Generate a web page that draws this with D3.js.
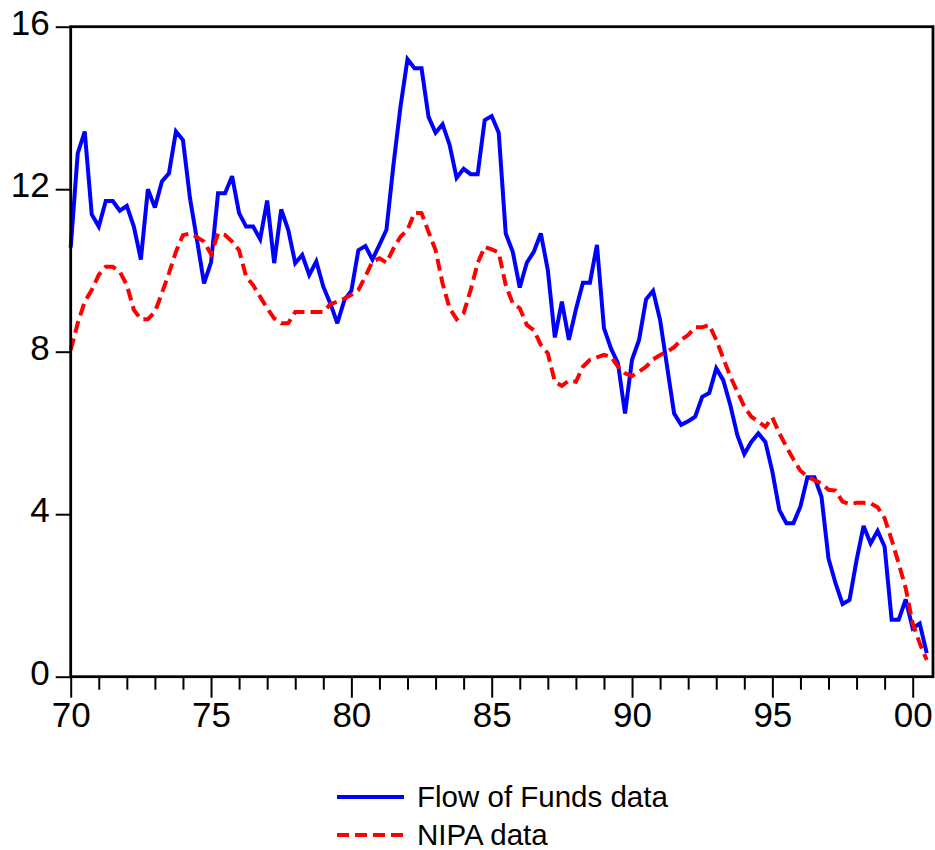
<!DOCTYPE html>
<html>
<head>
<meta charset="utf-8">
<script src="https://cdn.jsdelivr.net/npm/d3@7"></script>
<style>
  html, body { margin: 0; padding: 0; background: #fff; }
  svg { display: block; }
  text { font-family: Arial, "Liberation Sans", sans-serif; fill: #000; }
</style>
</head>
<body>
<svg id="chart" width="935" height="850"></svg>
<script>
// ---- Data (quarterly, 1970Q1 .. 2000Q3) ----
const startYear = 1970;
const flowOfFunds = [
  10.56, 12.88, 13.42, 11.38,
  11.08, 11.71, 11.71, 11.47,
  11.59, 11.08, 10.27, 12.00,
  11.55, 12.19, 12.39, 13.42,
  13.21, 11.78, 10.75, 9.68,
  10.20, 11.90, 11.90, 12.32,
  11.41, 11.08, 11.08, 10.77,
  11.72, 10.18, 11.50, 11.00,
  10.18, 10.38, 9.89, 10.22,
  9.60, 9.19, 8.70, 9.27,
  9.50, 10.50, 10.60, 10.27,
  10.63, 11.00, 12.60, 14.03,
  15.20, 14.98, 14.98, 13.78,
  13.39, 13.60, 13.09, 12.28,
  12.50, 12.37, 12.37, 13.70,
  13.80, 13.39, 10.91, 10.46,
  9.58, 10.19, 10.46, 10.91,
  10.01, 8.35, 9.23, 8.29,
  9.04, 9.70, 9.70, 10.63,
  8.58, 8.08, 7.71, 6.48,
  7.80, 8.29, 9.29, 9.50,
  8.78, 7.63, 6.48, 6.20,
  6.29, 6.40, 6.89, 6.98,
  7.59, 7.30, 6.69, 5.95,
  5.48, 5.78, 5.99, 5.78,
  5.05, 4.10, 3.78, 3.78,
  4.19, 4.91, 4.91, 4.43,
  2.91, 2.30, 1.79, 1.89,
  2.87, 3.71, 3.28, 3.59,
  3.20, 1.40, 1.40, 1.90,
  1.19, 1.31, 0.58
];
const nipa = [
  8.04, 8.70, 9.23, 9.52,
  9.89, 10.09, 10.09, 9.97,
  9.64, 9.03, 8.80, 8.80,
  8.98, 9.44, 9.93, 10.46,
  10.87, 10.91, 10.82, 10.71,
  10.40, 10.91, 10.87, 10.71,
  10.50, 9.85, 9.64, 9.35,
  9.07, 8.82, 8.70, 8.70,
  8.98, 8.98, 8.98, 8.98,
  8.98, 9.17, 9.23, 9.31,
  9.40, 9.52, 9.85, 10.22,
  10.30, 10.19, 10.54, 10.83,
  11.00, 11.42, 11.41, 10.95,
  10.50, 9.68, 9.07, 8.80,
  8.95, 9.52, 10.18, 10.58,
  10.52, 10.44, 9.64, 9.19,
  9.07, 8.66, 8.53, 8.17,
  7.96, 7.26, 7.16, 7.29,
  7.26, 7.63, 7.80, 7.86,
  7.92, 7.88, 7.63, 7.47,
  7.40, 7.51, 7.63, 7.81,
  7.92, 8.00, 8.11, 8.29,
  8.41, 8.60, 8.60, 8.66,
  8.29, 7.84, 7.39, 7.02,
  6.65, 6.40, 6.28, 6.15,
  6.38, 5.99, 5.66, 5.35,
  5.07, 4.92, 4.84, 4.76,
  4.60, 4.58, 4.31, 4.25,
  4.28, 4.28, 4.27, 4.17,
  3.90, 3.37, 2.79, 2.18,
  1.31, 0.82, 0.41
];
const yTicks = [0, 4, 8, 12, 16];
const xMajorTicks = [1970, 1975, 1980, 1985, 1990, 1995, 2000];
const xMajorLabels = ["70", "75", "80", "85", "90", "95", "00"];
const seriesNames = ["Flow of Funds data", "NIPA data"];

(function () {
  // ---- Layout ----
  const svg = d3.select("#chart");
  const pLeft = 70.7, pRight = 933, pTop = 26.7, pBottom = 676.7;
  const x = d3.scaleLinear().domain([1970, 2000]).range([pLeft, 912.7]);
  const y = d3.scaleLinear().domain([0, 16]).range([pBottom, pTop]);

  const dates = flowOfFunds.map((_, i) => startYear + i / 4);

  // ---- Lines ----
  const line = d3.line().x(d => x(d[0])).y(d => y(d[1]));
  const blueData = flowOfFunds.map((v, i) => [dates[i], v]);
  const redData = nipa.map((v, i) => [startYear + i / 4, v]);

  svg.append("path").datum(blueData)
    .attr("d", line).attr("fill", "none")
    .attr("stroke", "#0000ff").attr("stroke-width", 4)
    .attr("stroke-linejoin", "miter").attr("stroke-miterlimit", 3);

  svg.append("path").datum(redData)
    .attr("d", line).attr("fill", "none")
    .attr("stroke", "#ff0000").attr("stroke-width", 4)
    .attr("stroke-dasharray", "12,6");

  // ---- Frame ----
  svg.append("rect")
    .attr("x", pLeft).attr("y", pTop)
    .attr("width", pRight - pLeft).attr("height", pBottom - pTop)
    .attr("fill", "none").attr("stroke", "#000").attr("stroke-width", 2.8);

  // ---- Y axis ----
  const yAxis = d3.axisLeft(y).tickValues(yTicks).tickSize(15).tickPadding(6)
    .tickFormat(d3.format("d"));
  const gy = svg.append("g").attr("transform", `translate(${pLeft},0)`).call(yAxis);
  gy.select(".domain").remove();
  gy.selectAll(".tick line").attr("stroke-width", 2);
  gy.selectAll(".tick text")
    .attr("font-size", 35).attr("dy", "0.22em")
    .style("font-family", "Arial, 'Liberation Sans', sans-serif");

  // ---- X axis (minor yearly ticks) ----
  const years = d3.range(1970, 2001);
  const xMinor = d3.axisBottom(x).tickValues(years.filter(v => !xMajorTicks.includes(v)))
    .tickSize(13).tickFormat("");
  const gxm = svg.append("g").attr("transform", `translate(0,${pBottom})`).call(xMinor);
  gxm.select(".domain").remove();
  gxm.selectAll(".tick line").attr("stroke-width", 2);

  const xMajor = d3.axisBottom(x).tickValues(xMajorTicks).tickSize(21).tickPadding(4)
    .tickFormat((d, i) => xMajorLabels[i]);
  const gx = svg.append("g").attr("transform", `translate(0,${pBottom})`).call(xMajor);
  gx.select(".domain").remove();
  gx.selectAll(".tick line").attr("stroke-width", 2);
  gx.selectAll(".tick text")
    .attr("font-size", 35)
    .style("font-family", "Arial, 'Liberation Sans', sans-serif");

  // ---- Legend ----
  const legend = svg.append("g");
  const legendItems = [
    { name: seriesNames[0], color: "#0000ff", dash: null, ly: 797 },
    { name: seriesNames[1], color: "#ff0000", dash: "12,6", ly: 835 }
  ];
  legendItems.forEach(it => {
    legend.append("line")
      .attr("x1", 337).attr("x2", 404).attr("y1", it.ly).attr("y2", it.ly)
      .attr("stroke", it.color).attr("stroke-width", 4)
      .attr("stroke-dasharray", it.dash);
    legend.append("text")
      .attr("x", 417).attr("y", it.ly + 10)
      .attr("font-size", 29.5)
      .text(it.name);
  });
})();
</script>
</body>
</html>
